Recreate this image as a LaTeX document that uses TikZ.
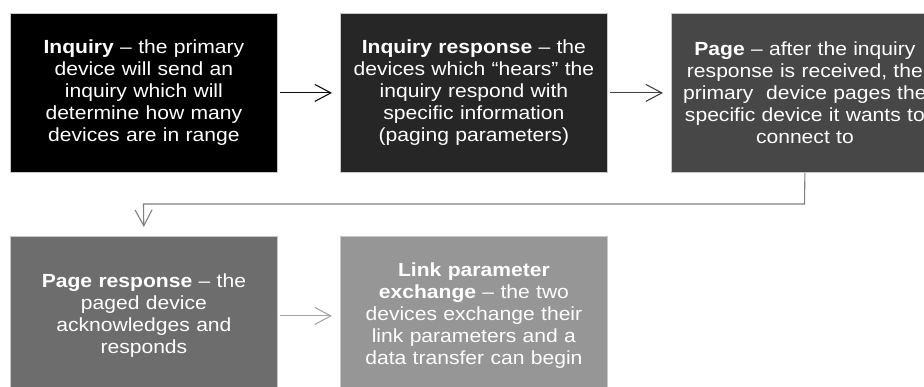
\documentclass[tikz,border=0pt]{standalone}
\usepackage{fontspec}
\setmainfont{Liberation Sans}[FakeStretch=1.11]
\usetikzlibrary{arrows.meta}
\definecolor{c1}{HTML}{000000}
\definecolor{c2}{HTML}{262626}
\definecolor{c3}{HTML}{474747}
\definecolor{c4}{HTML}{6D6D6D}
\definecolor{c5}{HTML}{969696}
\definecolor{edge}{HTML}{C8C8C8}
\tikzset{
  stepbox/.style={rectangle, draw=edge, line width=0.8pt, text=white,
    minimum width=267pt, minimum height=159pt, inner sep=0pt,
    text width=262pt, align=center, anchor=north west,
    font=\fontsize{19}{22}\selectfont},
  arr/.style={line width=1.1pt, -{Straight Barb[length=16pt,width=17pt,line width=1.1pt]}}
}
\begin{document}
\begin{tikzpicture}[x=1pt,y=-1pt]
\useasboundingbox (0,0) rectangle (924,386);
\node[stepbox, fill=c1] (inq) at (10,13) {\textbf{Inquiry} -- the primary\\device will send an\\inquiry which will\\determine how many\\devices are in range};
\node[stepbox, fill=c2] (inqr) at (340,13) {\textbf{Inquiry response} -- the\\devices which “hears” the\\inquiry respond with\\specific information\\(paging parameters)};
\node[stepbox, fill=c3] (page) at (671,13) {\textbf{Page} -- after the inquiry\\response is received, the\\primary\ \ device pages the\\specific device it wants to\\connect to};
\node[stepbox, fill=c4] (pager) at (10,236) {\textbf{Page response} -- the\\paged device\\acknowledges and\\responds};
\node[stepbox, fill=c5] (link) at (340,236) {\textbf{Link parameter}\\\textbf{exchange} -- the two\\devices exchange their\\link parameters and a\\data transfer can begin};
\coordinate (b1) at (804.5,204);
\coordinate (b2) at (143.5,204);
\draw[arr, draw={rgb,255:red,13;green,13;blue,13}] (inq.east) ++(2,0) -- ([xshift=-8pt]inqr.west);
\draw[arr, draw={rgb,255:red,64;green,64;blue,64}] (inqr.east) ++(2,0) -- ([xshift=-8pt]page.west);
\draw[arr, draw={rgb,255:red,128;green,128;blue,128}, shorten >=9pt] (page.south) -- (b1) -- (b2) -- (pager.north);
\draw[arr, draw={rgb,255:red,166;green,166;blue,166}] (pager.east) ++(2,0) -- ([xshift=-8pt]link.west);
\end{tikzpicture}
\end{document}
